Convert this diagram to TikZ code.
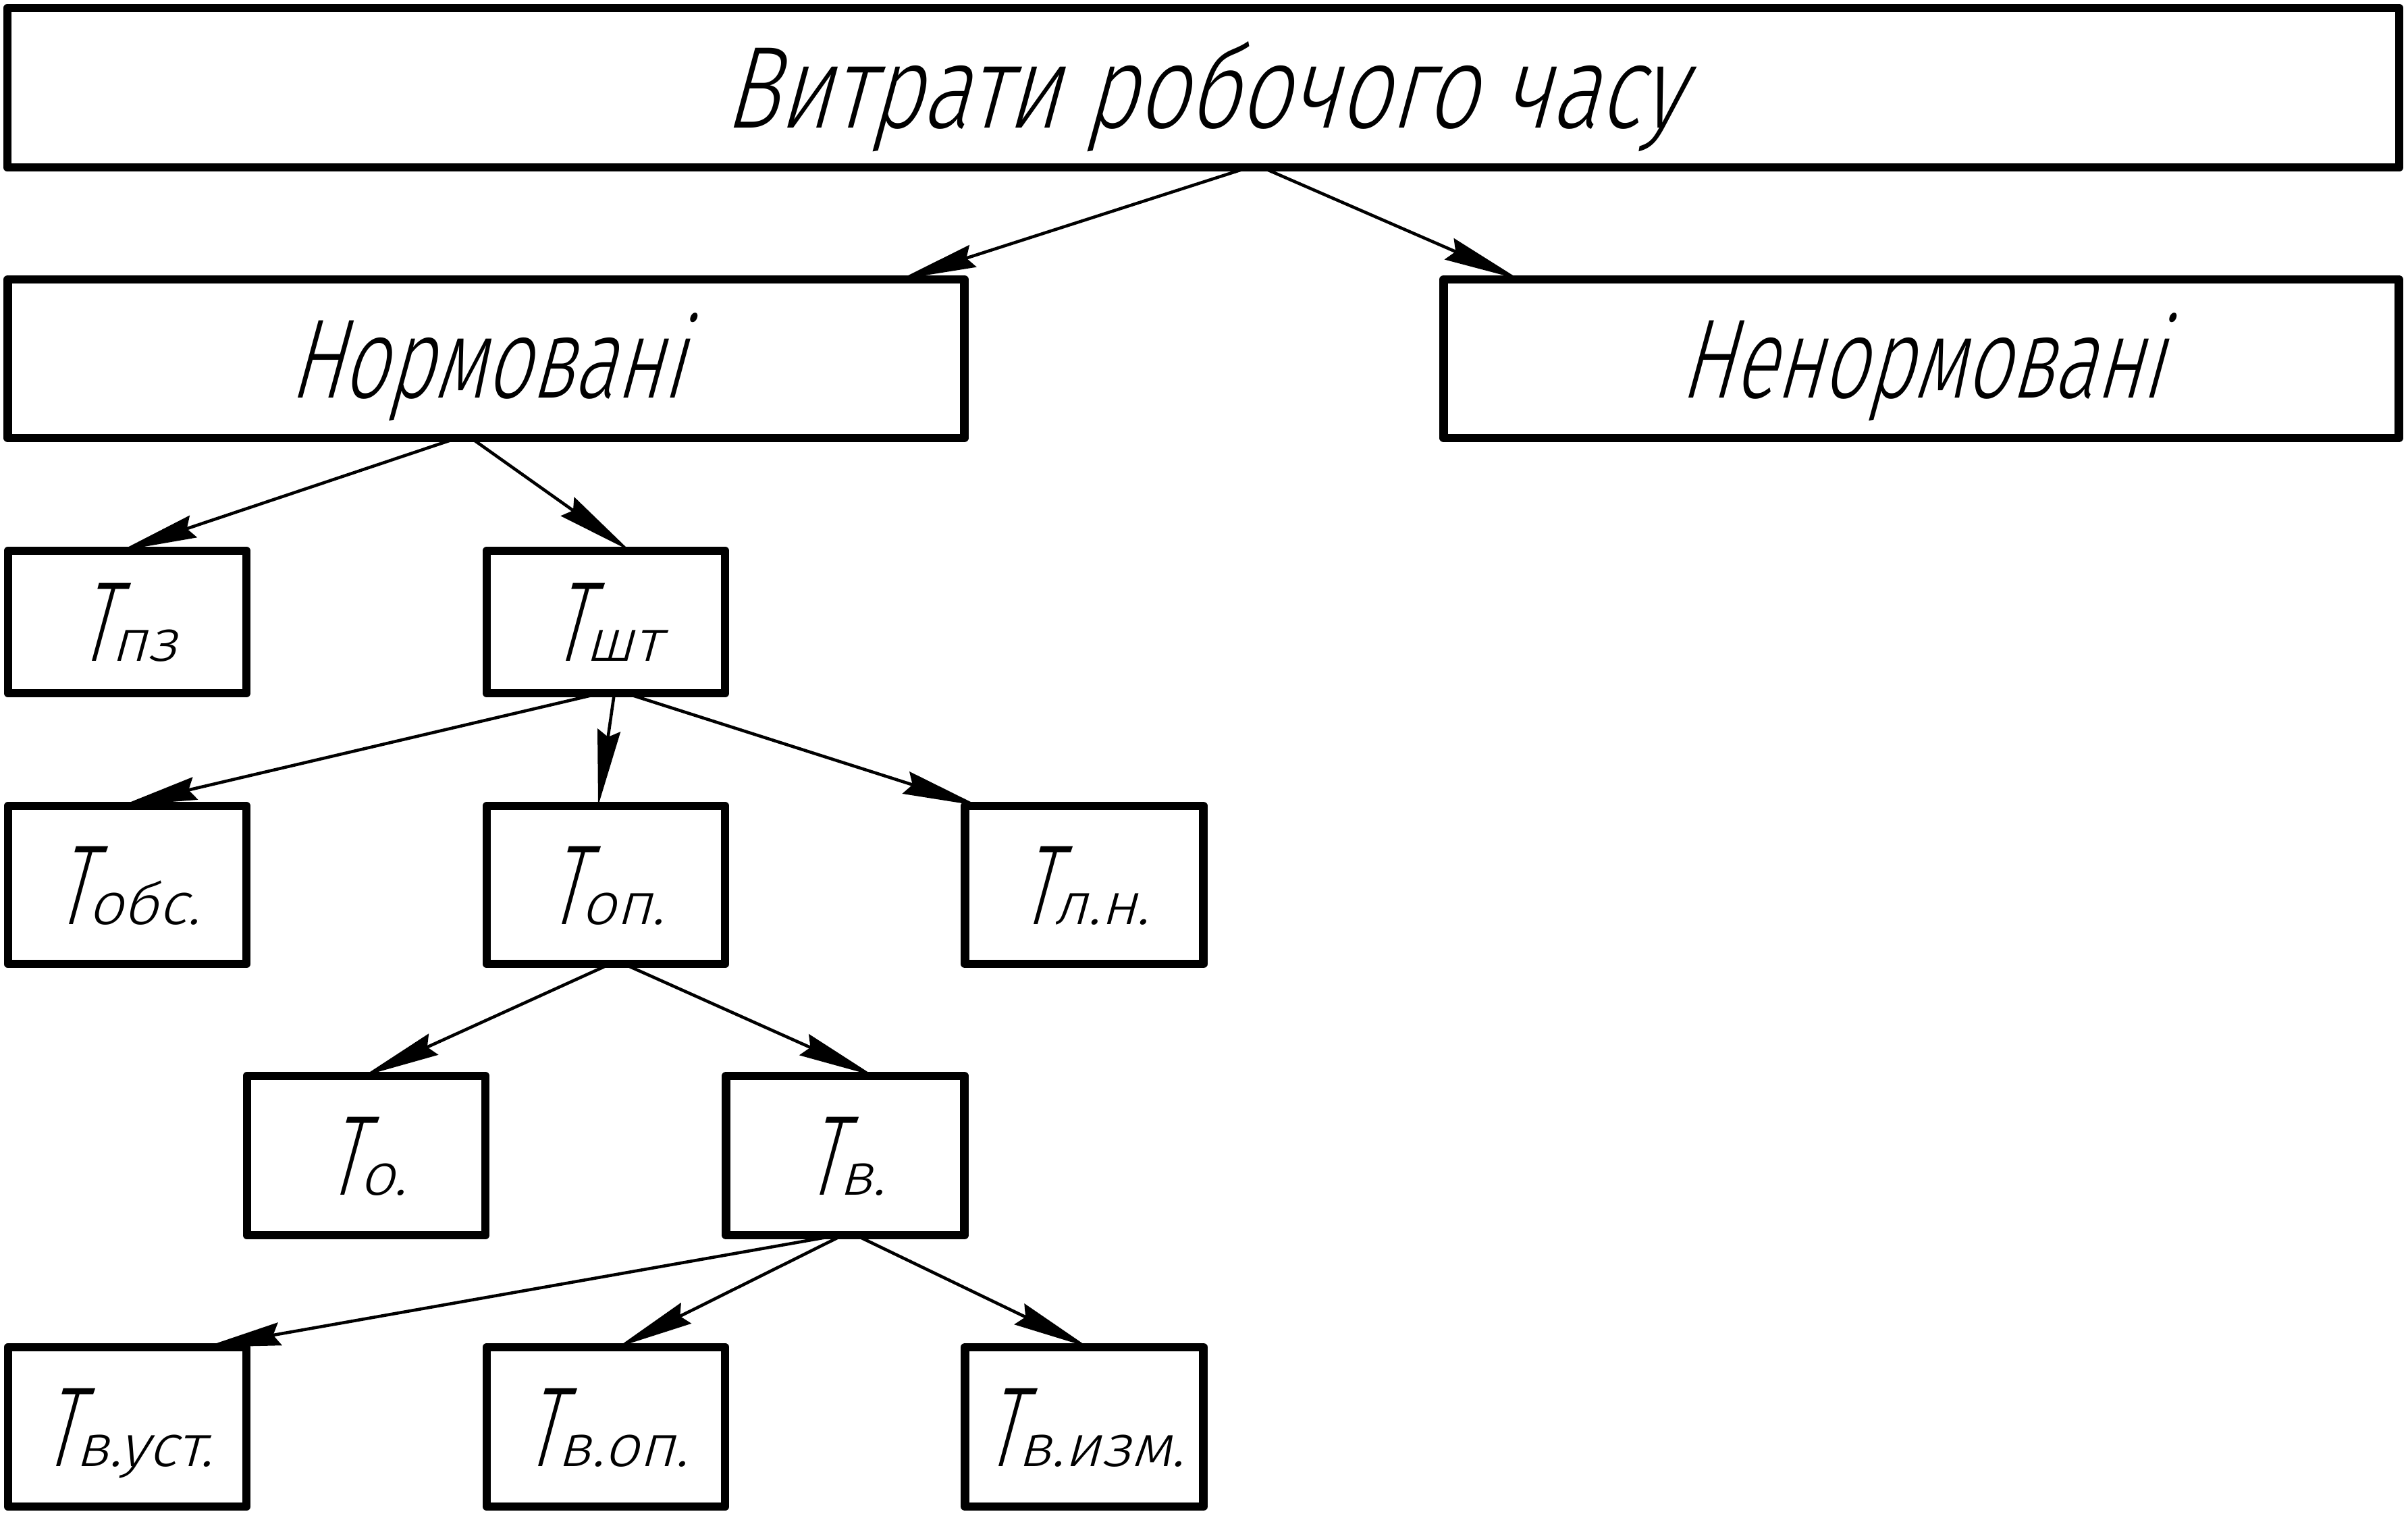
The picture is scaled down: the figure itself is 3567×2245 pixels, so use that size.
\documentclass[tikz,border=0pt]{standalone}
\usepackage{fontspec}
\newfontfamily\gostA[FakeSlant=0.27,FakeStretch=0.77]{Fira Sans Light}
\newfontfamily\gostB[FakeSlant=0.27,FakeStretch=0.70]{Fira Sans Light}
\newfontfamily\gostT[FakeSlant=0.27,FakeStretch=0.6]{Fira Sans Light}
\newfontfamily\gostS[FakeSlant=0.27,FakeStretch=1.05]{Fira Sans Light}
\usetikzlibrary{arrows.meta}
\newcommand{\sbs}[1]{{\gostS\fontsize{24.8}{25}\selectfont #1}}
\begin{document}
\begin{tikzpicture}[x=0.01cm,y=-0.01cm,
  box/.style={draw,line width=3.6pt,line join=round,inner sep=0pt,outer sep=0pt,text depth=0pt},
  arr/.style={line width=1.3pt,-{Stealth[length=1.13cm,width=0.34cm,inset=0.1cm]}},
  bigbox/.style={box,font=\gostA\fontsize{49.1}{50}\selectfont,text height=33.9pt},
  midbox/.style={box,font=\gostB\fontsize{47.5}{50}\selectfont,text height=32.7pt},
  smallbox/.style={box,font=\gostT\fontsize{47.9}{50}\selectfont,text height=33pt,minimum width=3.53cm}]
\useasboundingbox (0,0) rectangle (3567,2245);
\node[bigbox,minimum width=35.41cm,minimum height=2.36cm] (nRoot) at (1782.5,130) {Витрати робочого часу};
\node[midbox,minimum width=14.16cm,minimum height=2.35cm] (nNorm) at (720,531.5) {Нормовані};
\node[midbox,minimum width=14.14cm,minimum height=2.35cm] (nNenorm) at (2846,531.5) {Ненормовані};
\node[smallbox,minimum height=2.11cm] (nPz) at (188.5,921.5) {T\sbs{пз}};
\node[smallbox,minimum height=2.11cm] (nSht) at (897.5,921.5) {T\sbs{шт}};
\node[smallbox,minimum height=2.34cm] (nObs) at (188.5,1311) {T\sbs{обс.}};
\node[smallbox,minimum height=2.34cm] (nOp) at (897.5,1311) {T\sbs{оп.}};
\node[smallbox,minimum height=2.34cm] (nLn) at (1606,1311) {T\sbs{л.н.}};
\node[smallbox,minimum height=2.36cm] (nO) at (542.5,1712) {T\sbs{о.}};
\node[smallbox,minimum height=2.36cm] (nV) at (1252,1712) {T\sbs{в.}};
\node[smallbox,minimum height=2.36cm] (nVust) at (188.5,2114) {T\sbs{в.уст.}};
\node[smallbox,minimum height=2.36cm] (nVop) at (897.5,2114) {T\sbs{в.оп.}};
\node[smallbox,minimum height=2.36cm] (nVizm) at (1606,2114) {T\sbs{в.изм.}};
\draw[arr] ([xshift=0.67cm]nRoot.south) -- ([xshift=6.13cm]nNorm.north);
\draw[arr] ([xshift=0.87cm]nRoot.south) -- ([xshift=-5.95cm]nNenorm.north);
\draw[arr] ([xshift=-0.43cm]nNorm.south) -- ([xshift=-0.095cm]nPz.north);
\draw[arr] ([xshift=-0.22cm]nNorm.south) -- ([xshift=0.355cm]nSht.north);
\draw[arr] ([xshift=-0.08cm]nSht.south) -- ([xshift=-0.095cm]nObs.north);
\draw[arr] ([xshift=0.125cm]nSht.south) -- ([xshift=-0.115cm]nOp.north);
\draw[arr] ([xshift=0.295cm]nSht.south) -- ([xshift=-1.56cm]nLn.north);
\draw[arr] ([xshift=0.065cm]nOp.south) -- ([xshift=-0.035cm]nO.north);
\draw[arr] ([xshift=0.265cm]nOp.south) -- ([xshift=0.425cm]nV.north);
\draw[arr] ([xshift=-0.11cm]nV.south) -- ([xshift=1.145cm]nVust.north);
\draw[arr] ([xshift=-0.04cm]nV.south) -- ([xshift=0.175cm]nVop.north);
\draw[arr] ([xshift=0.16cm]nV.south) -- ([xshift=0.06cm]nVizm.north);
\end{tikzpicture}
\end{document}
